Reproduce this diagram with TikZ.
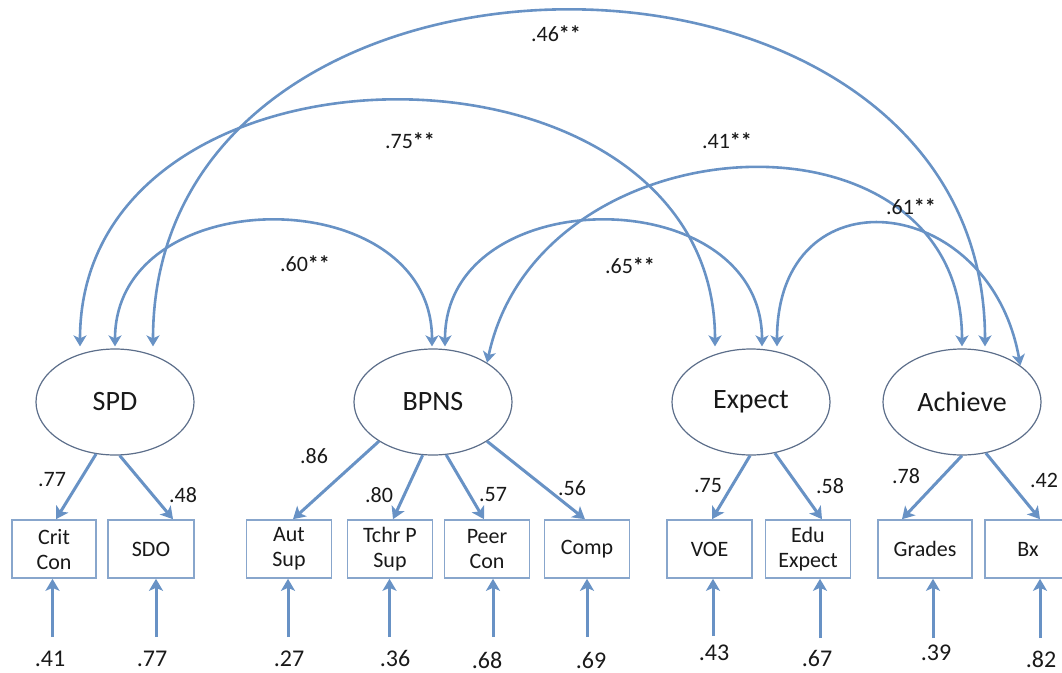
\documentclass[tikz,border=0pt]{standalone}
\usepackage{fontspec}
\setmainfont{Carlito}
\usetikzlibrary{arrows.meta,shapes.geometric,shadows}

\definecolor{arrowblue}{RGB}{104,146,197}
\definecolor{ovalline}{RGB}{92,110,138}
\definecolor{boxline}{RGB}{136,166,204}
\definecolor{inktext}{RGB}{25,25,25}

\newcommand{\sig}{\textbf{**}}

\begin{document}
\begin{tikzpicture}[x=1pt,y=-1pt,
  every node/.style={text=inktext},
  latent/.style={ellipse, draw=ovalline, line width=1.2pt, fill=white,
    minimum width=158pt, minimum height=106pt, inner sep=0pt,
    font=\fontsize{28}{32}\selectfont},
  indicator/.style={rectangle, draw=boxline, line width=1.6pt, fill=white,
    minimum width=85pt, minimum height=58pt, inner sep=0pt, align=center,
    font=\fontsize{22}{25}\selectfont,
    drop shadow={shadow xshift=0.8pt, shadow yshift=-1.2pt, fill=black, opacity=0.22}},
  load/.style={arrowblue, line width=3pt,
    -{Stealth[length=12pt,width=14pt,inset=3pt]}},
  cov/.style={arrowblue, line width=2.6pt,
    {Stealth[length=11pt,width=13pt,inset=3pt]}-{Stealth[length=11pt,width=13pt,inset=3pt]}},
  coef/.style={font=\fontsize{22}{25}\selectfont, inner sep=0pt},
  resid/.style={font=\fontsize{24}{27}\selectfont, inner sep=0pt},
  covlab/.style={font=\fontsize{22}{25}\selectfont, inner sep=0pt}
]
\useasboundingbox (0,0) rectangle (1062,672);

% latent factors
\node[latent] (spd)  at (115,402) {SPD};
\node[latent] (bpns) at (433,402) {BPNS};
\node[latent] (exp)  at (751,402) {Expect};
\node[latent] (ach)  at (962,402) {Achieve};

% observed indicators
\node[indicator, minimum width=84pt] (crit) at (54,549)   {Crit\\Con};
\node[indicator, minimum width=86pt] (sdo)  at (151,549)  {SDO};
\node[indicator] (aut)  at (289,549)  {Aut\\Sup};
\node[indicator] (tchr) at (390,549)  {Tchr P\\Sup};
\node[indicator] (peer) at (487,549)  {Peer\\Con};
\node[indicator] (comp) at (587,549)  {Comp};
\node[indicator] (voe)  at (709.5,549) {VOE};
\node[indicator] (edu)  at (808,549)  {Edu\\Expect};
\node[indicator, minimum width=94pt] (grad) at (925,549) {Grades};
\node[indicator, minimum width=86pt] (bx)   at (1028,549) {Bx};

% factor loadings
\draw[load] (spd.250)  -- ([xshift=2pt]crit.north);
\draw[load] (spd.275)  -- ([xshift=22pt]sdo.north);
\draw[load] (bpns.216) -- ([xshift=4pt]aut.north);
\draw[load] (bpns.259) -- ([xshift=3pt]tchr.north);
\draw[load] (bpns.284) -- ([xshift=-3pt]peer.north);
\draw[load] (bpns.324) -- ([xshift=-2pt]comp.north);
\draw[load] (exp.269)  -- ([xshift=2.5pt]voe.north);
\draw[load] (exp.295)  -- ([xshift=14pt]edu.north);
\draw[load] (ach.270)  -- ([xshift=-23pt]grad.north);
\draw[load] (ach.295)  -- ([xshift=12pt]bx.north);

\node[coef] (l1)  at (52,480)   {.77};
\node[coef] (l2)  at (183,495)  {.48};
\node[coef] (l3)  at (314,456)  {.86};
\node[coef] (l4)  at (379,495)  {.80};
\node[coef] (l5)  at (493,495)  {.57};
\node[coef] (l6)  at (572,488)  {.56};
\node[coef] (l7)  at (708,486)  {.75};
\node[coef] (l8)  at (830,486)  {.58};
\node[coef] (l9)  at (906,476)  {.78};
\node[coef] (l10) at (1044,480) {.42};

% residual terms
\coordinate (e1)  at (52.5,637);
\coordinate (e2)  at (156,637);
\coordinate (e3)  at (288,637);
\coordinate (e4)  at (389.5,637);
\coordinate (e5)  at (493,637);
\coordinate (e6)  at (587,637);
\coordinate (e7)  at (713,636);
\coordinate (e8)  at (820,638);
\coordinate (e9)  at (933,638);
\coordinate (e10) at (1040,638);

\draw[load] (e1)  -- (e1 |- crit.south);
\draw[load] (e2)  -- (e2 |- sdo.south);
\draw[load] (e3)  -- (e3 |- aut.south);
\draw[load] (e4)  -- (e4 |- tchr.south);
\draw[load] (e5)  -- (e5 |- peer.south);
\draw[load] (e6)  -- (e6 |- comp.south);
\draw[load] (e7)  -- (e7 |- voe.south);
\draw[load] (e8)  -- (e8 |- edu.south);
\draw[load] (e9)  -- (e9 |- grad.south);
\draw[load] (e10) -- (e10 |- bx.south);

\node[resid] (r1)  at (50,659)   {.41};
\node[resid] (r2)  at (152,659)  {.77};
\node[resid] (r3)  at (289,659)  {.27};
\node[resid] (r4)  at (395,658)  {.36};
\node[resid] (r5)  at (487,660)  {.68};
\node[resid] (r6)  at (591,660)  {.69};
\node[resid] (r7)  at (714,653)  {.43};
\node[resid] (r8)  at (817,658)  {.67};
\node[resid] (r9)  at (936,653)  {.39};
\node[resid] (r10) at (1041,659) {.82};

% end points of the factor correlations
\coordinate (spdL)  at ([xshift=-35pt,yshift=2pt]spd.north);
\coordinate (spdM)  at ([yshift=2pt]spd.north);
\coordinate (spdR)  at ([xshift=38pt,yshift=2pt]spd.north);
\coordinate (bpnsA) at ([xshift=-1pt,yshift=2pt]bpns.north);
\coordinate (bpnsB) at ([xshift=12pt,yshift=2pt]bpns.north);
\coordinate (expL)  at ([xshift=-36pt,yshift=2pt]exp.north);
\coordinate (expM)  at ([xshift=11pt,yshift=2pt]exp.north);
\coordinate (expR)  at ([xshift=26pt,yshift=2pt]exp.north);
\coordinate (achL)  at ([yshift=2pt]ach.north);
\coordinate (achM)  at ([xshift=23pt,yshift=2pt]ach.north);

% factor correlations
\draw[cov] (spdM)  .. controls +(0,-167) and +(0,-167) .. (bpnsA);
\draw[cov] (spdL)  .. controls +(0,-327) and +(0,-327) .. (expL);
\draw[cov] (spdR)  .. controls +(0,-447) and +(0,-447) .. (achM);
\draw[cov] (bpnsB) .. controls +(0,-167) and +(0,-167) .. (expM);
\draw[cov] (bpns.36) .. controls +(52,-245) and +(0,-250) .. (achL);
\draw[cov] (expR)  .. controls +(0,-177) and +(-31,-174) .. (ach.32);

\node[covlab] (c1) at (556,34)  {.46\sig};
\node[covlab] (c2) at (410,141) {.75\sig};
\node[covlab] (c3) at (727,141) {.41\sig};
\node[covlab] (c4) at (911,207) {.61\sig};
\node[covlab] (c5) at (305,264) {.60\sig};
\node[covlab] (c6) at (630,266) {.65\sig};
\end{tikzpicture}
\end{document}
